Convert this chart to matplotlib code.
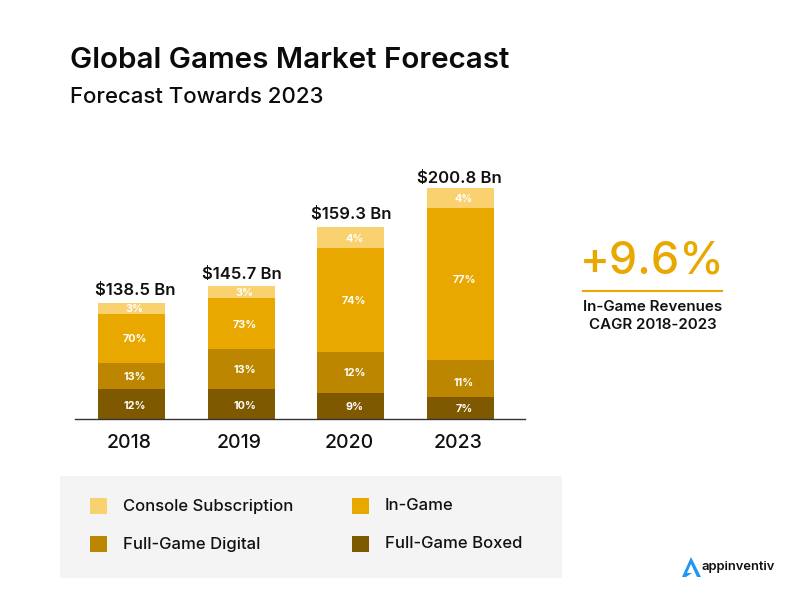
import matplotlib
matplotlib.use("Agg")
import matplotlib.pyplot as plt
from matplotlib.patches import Rectangle, Polygon
from matplotlib.transforms import ScaledTranslation
import numpy as np

plt.rcParams['font.family'] = ['Inter', 'DejaVu Sans']

years = ['2018', '2019', '2020', '2023']
totals = ['$138.5 Bn', '$145.7 Bn', '$159.3 Bn', '$200.8 Bn']
# segment heights as drawn in the picture (not proportional to the percentages)
boxed = [30, 30, 26, 22]
digital = [26, 40, 41, 37]
ingame = [49, 51, 104, 152]
console = [11, 12, 21, 20]
boxed_pct = ['12%', '10%', '9%', '7%']
digital_pct = ['13%', '13%', '12%', '11%']
ingame_pct = ['70%', '73%', '74%', '77%']
console_pct = ['3%', '3%', '4%', '4%']

C_CONSOLE, C_INGAME, C_DIGITAL, C_BOXED = '#FAD16F', '#E9A800', '#BC8600', '#7F5900'
W, H = 800, 614

fig = plt.figure(figsize=(W/100, H/100), dpi=100, facecolor='white')

def ptext(x, y, s, **kw):
    kw.setdefault('va', 'center')
    kw.setdefault('ha', 'center')
    kw.setdefault('color', '#111111')
    return fig.text(x/W, 1-y/H, s, **kw)

def prect(x0, y0, x1, y1, c):
    fig.add_artist(Rectangle((x0/W, 1-y1/H), (x1-x0)/W, (y1-y0)/H, color=c, lw=0,
                             transform=fig.transFigure))

# legend panel
prect(60, 476, 562, 578, '#F4F4F4')

ax = fig.add_axes([75/W, 1-419/H, 450/W, 269/H])
ax.patch.set_alpha(0)
ax.set_xlim(-0.515, 3.588)
ax.set_ylim(0, 269)
x = np.arange(len(years))
bottom = np.zeros(len(years))
series = [(boxed, boxed_pct, C_BOXED), (digital, digital_pct, C_DIGITAL),
          (ingame, ingame_pct, C_INGAME), (console, console_pct, C_CONSOLE)]
# small label nudges in pixels, (series, bar) -> extra upward shift
nudge = {(2, 3): 5, (1, 3): -3, (0, 0): -1, (0, 1): -1}
for si, (vals, pcts, col) in enumerate(series):
    ax.bar(x, vals, bottom=bottom, width=0.611, color=col, linewidth=0)
    for bi, (xi, b, v, p) in enumerate(zip(x, bottom, vals, pcts)):
        ax.annotate(p, (xi, b + v/2), xytext=(3.5, -1 + nudge.get((si, bi), 0)),
                    textcoords='offset pixels', ha='center', va='center',
                    color='white', fontsize=7.8, fontweight='bold')
    bottom += np.array(vals)
total_dx = [3.5, 0.5, 0, -1]
total_dy = [12, 11, 12, 10]
for xi, top, t, dx, dy in zip(x, bottom, totals, total_dx, total_dy):
    ax.annotate(t, (xi, top), xytext=(dx, dy), textcoords='offset pixels', ha='center',
                va='center', fontsize=12, fontweight='semibold', color='#111111')
ax.set_xticks(x, years, fontsize=14, fontweight='medium', color='#111111')
ax.tick_params(axis='x', length=0, pad=10.5)
offset = ScaledTranslation(-2/100, 0, fig.dpi_scale_trans)
for lab in ax.get_xticklabels():
    lab.set_transform(lab.get_transform() + offset)
ax.set_yticks([])
for s in ['top', 'left', 'right']:
    ax.spines[s].set_visible(False)
ax.spines['bottom'].set_color('#333333')
ax.spines['bottom'].set_linewidth(1)

# titles
ptext(70, 61, 'Global Games Market Forecast', ha='left', fontsize=21.3, fontweight='semibold', color='#0b0b0b')
ptext(70, 97, 'Forecast Towards 2023', ha='left', fontsize=16, fontweight='medium', color='#0b0b0b')

# callout
ptext(652.5, 261, '+9.6%', fontsize=32.3, fontweight='medium', color=C_INGAME)
fig.add_artist(plt.Line2D([583/W, 722/W], [1-291/H]*2, color=C_INGAME, lw=1.5))
ptext(652.5, 307, 'In-Game Revenues', fontsize=10.9, fontweight='semibold')
ptext(652.5, 325, 'CAGR 2018-2023', fontsize=10.9, fontweight='semibold')

# legend
legend_items = [('Console Subscription', C_CONSOLE, 90, 506), ('In-Game', C_INGAME, 352, 506),
                ('Full-Game Digital', C_DIGITAL, 90, 544), ('Full-Game Boxed', C_BOXED, 352, 544)]
for label, col, lx, ly in legend_items:
    prect(lx, ly-8, lx+17, ly+8, col)
    ptext(lx+33, ly, label, ha='left', fontsize=12, fontweight='medium')

# logo
logo = [(682, 577), (691, 557), (701, 577), (697, 577), (691, 564), (687, 573), (692, 573), (686, 577)]
fig.add_artist(Polygon([(px/W, 1-py/H) for px, py in logo], closed=True, color='#2196F3', lw=0,
                       transform=fig.transFigure))
ptext(702, 567, 'appinventiv', ha='left', fontsize=9.3, fontweight='semibold')

fig.savefig('out.png', dpi=100)
